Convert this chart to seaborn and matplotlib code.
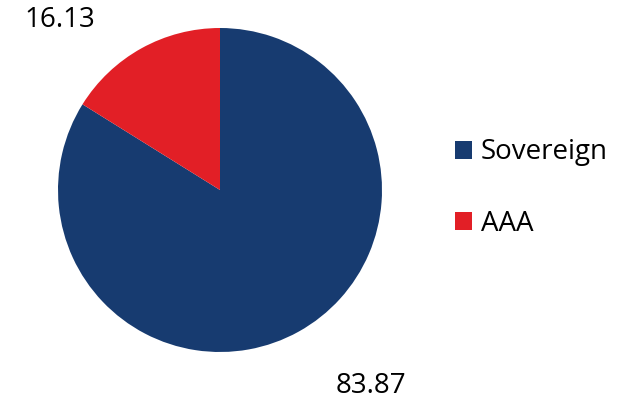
import matplotlib
matplotlib.use("Agg")
import matplotlib.pyplot as plt
import seaborn as sns

categories = ["Sovereign", "AAA"]
values = [83.87, 16.13]
colors = ["#173b70", "#e21f26"]

sns.set_theme(style="white")
plt.rcParams['font.family'] = ['Open Sans', 'DejaVu Sans']

fig = plt.figure(figsize=(6.2, 4.08), dpi=100)
r_px = 162
cx, cy = 220, 190
ax = fig.add_axes([(cx - r_px) / 620, (408 - cy - r_px) / 408, 2 * r_px / 620, 2 * r_px / 408])
wedges, _ = ax.pie(values, colors=colors, startangle=90, counterclock=False,
                   radius=1.0, wedgeprops=dict(linewidth=0))
ax.set_xlim(-1, 1)
ax.set_ylim(-1, 1)
ax.set_aspect('auto')

label_pos = [(0.93, -1.21), (-0.99, 1.05)]
for v, (x, y) in zip(values, label_pos):
    ax.text(x, y, f"{v:.2f}", ha="center", va="center", fontsize=20,
            color="#000000", clip_on=False)

leg = fig.legend(wedges, categories, loc="center left", bbox_to_anchor=(430 / 620, 1 - 188 / 408),
                 frameon=False, handlelength=0.62, handleheight=0.62,
                 handletextpad=0.3, labelspacing=1.55,
                 prop=dict(size=20))
for t in leg.get_texts():
    t.set_color("#000000")

fig.savefig("out.png", dpi=100)
